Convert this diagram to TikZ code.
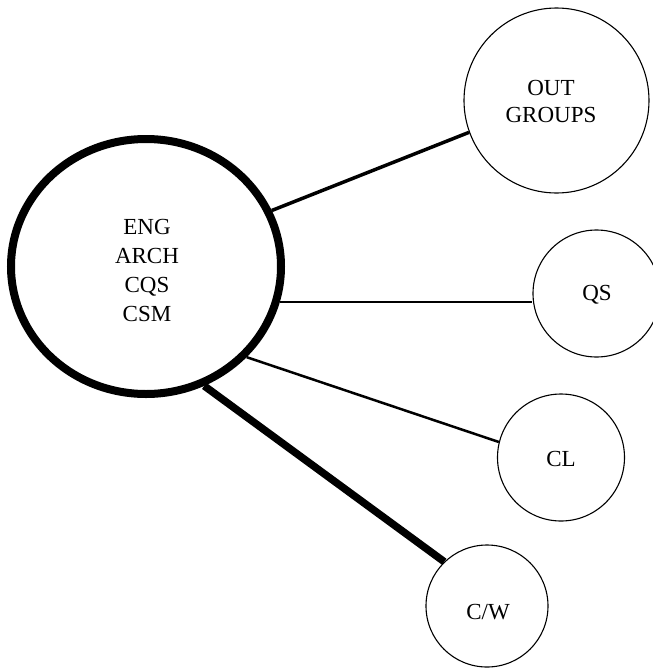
\documentclass[tikz,border=0pt]{standalone}
\usepackage{fontspec}
\setmainfont{Liberation Serif}
\usetikzlibrary{shapes.geometric}
\begin{document}
\begin{tikzpicture}[x=1pt,y=-1pt,
  hub/.style={draw, ellipse, line width=8pt, inner sep=0pt,
    minimum width=270pt, minimum height=255pt},
  unit/.style={draw, circle, line width=1.1pt, inner sep=0pt},
  lbl/.style={font=\fontsize{23}{29}\selectfont, align=center, inner sep=0pt},
  link/.style={line width=#1, line cap=butt}]
\clip (0,0) rectangle (653,670);

% groups
\node[hub] (hub) at (146,266.5) {};
\node[unit, minimum size=185pt] (out) at (556.5,100.5) {};
\node[unit, minimum size=127pt] (qs)  at (596.5,293.5) {};
\node[unit, minimum size=127pt] (cl)  at (561,457.5) {};
\node[unit, minimum size=122pt] (cw)  at (487,606) {};

% labels
\node[lbl] (hubtext) at (147,270) {ENG\\ARCH\\CQS\\CSM};
\node[lbl, font=\fontsize{23}{27}\selectfont] (outtext) at (551,101.5) {OUT\\GROUPS};
\node[lbl, anchor=base] (qstext) at (597,300.6) {QS};
\node[lbl, anchor=base] (cltext) at (561,466) {CL};
\node[lbl, anchor=base] (cwtext) at (488,619.6) {C/W};

% links between the central group and the others
\draw[link=3.5pt] (hub.24) -- (out.200);
\draw[link=2.2pt] (hub.-15) -- (hub.-15 -| qs.west);
\draw[link=2.5pt] (hub.-42.6) -- (cl.166);
\draw[link=7.5pt] (hub.-64.4) -- (cw.134.4);
\end{tikzpicture}
\end{document}
